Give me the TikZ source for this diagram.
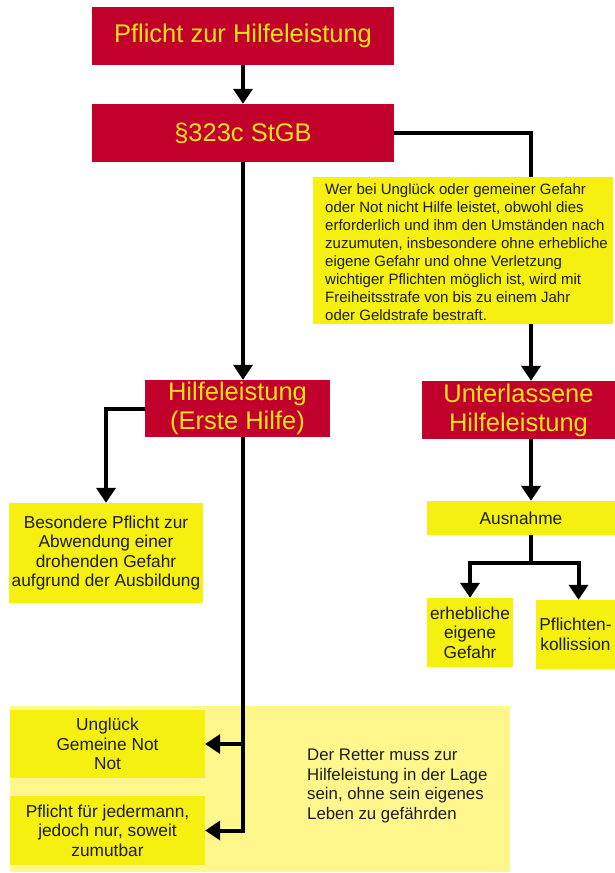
\documentclass[tikz,border=0pt]{standalone}
\usepackage{fontspec}
\setmainfont{Liberation Sans}
\usetikzlibrary{arrows.meta}
\definecolor{dred}{HTML}{C1002C}
\definecolor{tyel}{HTML}{F7E21B}
\definecolor{yel}{HTML}{F5F00F}
\definecolor{lyel}{HTML}{FFF78C}
\definecolor{txt}{HTML}{1E1E1E}
\begin{document}
\begin{tikzpicture}[x=1pt,y=-1pt,
  redbox/.style={fill=dred, text=tyel, font=\fontsize{25.5}{29}\selectfont, align=center, inner sep=0pt},
  ybox/.style={fill=yel, text=txt, font=\fontsize{17.3}{19.5}\selectfont, align=center, inner sep=0pt},
  conn/.style={line width=4pt, draw=black},
  arr/.style={conn, -{Triangle[width=19pt,length=15pt]}}]
\useasboundingbox (0,0) rectangle (615,873);
% background of bottom area
\node[fill=lyel, minimum width=500, minimum height=166, inner sep=0pt] (bg) at (260,789) {};
\coordinate (rcol) at (531,0);
\coordinate (split) at (531,563);
% red boxes
\node[redbox, minimum width=302, minimum height=58] (top) at (243,36) {Pflicht zur Hilfeleistung};
\node[redbox, minimum width=302, minimum height=58] (law) at (243,133) {§323c StGB};
\node[redbox, minimum width=185, minimum height=57] (hilfe) at (237.5,408.5) {Hilfeleistung\\(Erste Hilfe)};
\node[redbox, minimum width=193, minimum height=58] (unter) at (518.5,410) {Unterlassene\\Hilfeleistung};
% yellow boxes
\node[ybox, minimum width=188, minimum height=34] (ausn) at (521,518) {Ausnahme};
\node[ybox, minimum width=86, minimum height=69] (erheb) at (470,632.5) {erhebliche\\eigene\\Gefahr};
\node[ybox, minimum width=79, minimum height=69] (kolli) at (575.5,634.5) {Pflichten-\\kollission};
\node[ybox, minimum width=194, minimum height=100] (beson) at (106,553) {Besondere Pflicht zur\\Abwendung einer\\drohenden Gefahr\\aufgrund der Ausbildung};
\node[ybox, minimum width=195, minimum height=68] (ungl) at (107.5,744) {Unglück\\Gemeine Not\\Not};
\node[ybox, minimum width=195, minimum height=69] (jeder) at (107.5,830.5) {Pflicht für jedermann,\\jedoch nur, soweit\\zumutbar};
\node[anchor=west, align=left, text=txt, inner sep=0pt, font=\fontsize{16.8}{19.5}\selectfont] (retter) at (307,786) {Der Retter muss zur\\Hilfeleistung in der Lage\\sein, ohne sein eigenes\\Leben zu gefährden};
% connectors
\draw[arr] (top) -- (law);
\draw[arr] (law.east) -| (rcol |- unter.north);
\node[fill=yel, inner sep=0pt, minimum width=300, minimum height=147] (para) at (463,250.5) {};
\node[anchor=west, text=txt, align=left, inner sep=0pt, font=\fontsize{15}{18}\selectfont] (paratext) at (325,252) {Wer bei Unglück oder gemeiner Gefahr\\oder Not nicht Hilfe leistet, obwohl dies\\erforderlich und ihm den Umständen nach\\zuzumuten, insbesondere ohne erhebliche\\eigene Gefahr und ohne Verletzung\\wichtiger Pflichten möglich ist, wird mit\\Freiheitsstrafe von bis zu einem Jahr\\oder Geldstrafe bestraft.};
\draw[arr] (law.south) -- (law.south |- hilfe.north);
\draw[arr] (hilfe.west) -| (beson.north);
\draw[arr] (law.south |- hilfe.south) |- (jeder.east);
\draw[arr] (law.south |- ungl.east) -- (ungl.east);
\draw[arr] (rcol |- unter.south) -- (rcol |- ausn.north);
\draw[conn] (rcol |- ausn.south) -- (split);
\draw[arr] (split) -| (erheb.north);
\draw[arr] (split) -| ([xshift=3pt]kolli.north);
\end{tikzpicture}
\end{document}
